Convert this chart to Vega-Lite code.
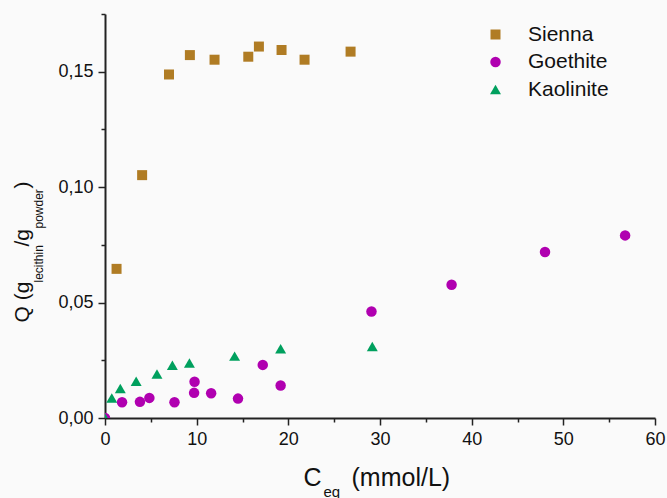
{
  "$schema": "https://vega.github.io/schema/vega-lite/v6.json",
  "autosize": {"type": "none"},
  "width": 550,
  "height": 404,
  "padding": {"left": 105, "top": 14, "right": 12, "bottom": 80},
  "background": "#fafafa",
  "config": {
    "view": {"stroke": null},
    "font": "Liberation Sans",
    "axis": {
      "domainColor": "#222222",
      "domainWidth": 2,
      "tickColor": "#222222",
      "tickWidth": 1.5,
      "labelColor": "#111111",
      "labelFont": "Liberation Sans",
      "labelFontSize": 18,
      "titleFont": "Liberation Sans",
      "titleFontWeight": "normal",
      "titleColor": "#111111",
      "grid": false
    }
  },
  "data": {
    "values": [
      {"Mineral": "Sienna", "C": 1.26, "Q": 0.0646},
      {"Mineral": "Sienna", "C": 4.05, "Q": 0.1052},
      {"Mineral": "Sienna", "C": 6.98, "Q": 0.1488},
      {"Mineral": "Sienna", "C": 9.26, "Q": 0.1572},
      {"Mineral": "Sienna", "C": 11.95, "Q": 0.1552},
      {"Mineral": "Sienna", "C": 15.63, "Q": 0.1565},
      {"Mineral": "Sienna", "C": 16.79, "Q": 0.1609},
      {"Mineral": "Sienna", "C": 19.26, "Q": 0.1594},
      {"Mineral": "Sienna", "C": 21.77, "Q": 0.1552},
      {"Mineral": "Sienna", "C": 26.79, "Q": 0.1587},
      {"Mineral": "Goethite", "C": 0, "Q": 0},
      {"Mineral": "Goethite", "C": 1.86, "Q": 0.0068},
      {"Mineral": "Goethite", "C": 3.81, "Q": 0.007},
      {"Mineral": "Goethite", "C": 4.84, "Q": 0.0087},
      {"Mineral": "Goethite", "C": 7.58, "Q": 0.0068},
      {"Mineral": "Goethite", "C": 9.77, "Q": 0.0157},
      {"Mineral": "Goethite", "C": 9.72, "Q": 0.0109},
      {"Mineral": "Goethite", "C": 11.58, "Q": 0.0107},
      {"Mineral": "Goethite", "C": 14.51, "Q": 0.0084},
      {"Mineral": "Goethite", "C": 17.21, "Q": 0.023},
      {"Mineral": "Goethite", "C": 19.16, "Q": 0.0141},
      {"Mineral": "Goethite", "C": 29.07, "Q": 0.0461},
      {"Mineral": "Goethite", "C": 37.81, "Q": 0.0577},
      {"Mineral": "Goethite", "C": 48.0, "Q": 0.0719},
      {"Mineral": "Goethite", "C": 56.74, "Q": 0.0791},
      {"Mineral": "Kaolinite", "C": 0, "Q": 0},
      {"Mineral": "Kaolinite", "C": 0.74, "Q": 0.0087},
      {"Mineral": "Kaolinite", "C": 1.67, "Q": 0.0128},
      {"Mineral": "Kaolinite", "C": 3.4, "Q": 0.0159},
      {"Mineral": "Kaolinite", "C": 5.67, "Q": 0.0191},
      {"Mineral": "Kaolinite", "C": 7.35, "Q": 0.0228},
      {"Mineral": "Kaolinite", "C": 9.21, "Q": 0.0238},
      {"Mineral": "Kaolinite", "C": 14.14, "Q": 0.0268},
      {"Mineral": "Kaolinite", "C": 19.16, "Q": 0.03},
      {"Mineral": "Kaolinite", "C": 29.16, "Q": 0.031}
    ]
  },
  "resolve": {"axis": {"x": "independent", "y": "independent"}},
  "layer": [
    {
      "mark": {"type": "point", "filled": true, "opacity": 1, "clip": true},
      "encoding": {
        "x": {
          "field": "C", "type": "quantitative",
          "scale": {"domain": [0, 60], "nice": false, "zero": false},
          "axis": {
            "orient": "bottom", "values": [0, 10, 20, 30, 40, 50, 60], "format": "d",
            "tickSize": 7, "labelPadding": 5, "labelFlush": false,
            "title": "C", "titleX": 198, "titleY": 67, "titleAlign": "left",
            "titleBaseline": "alphabetic", "titleAngle": 0, "titleFontSize": 25
          }
        },
        "y": {
          "field": "Q", "type": "quantitative",
          "scale": {"domain": [0, 0.175], "nice": false, "zero": false},
          "axis": {
            "orient": "left", "values": [0, 0.05, 0.1, 0.15],
            "labelExpr": "replace(format(datum.value, '.2f'), '.', ',')",
            "tickSize": 7, "labelPadding": 5, "labelFlush": false,
            "title": "Q (g", "titleX": -77, "titleY": 308, "titleAlign": "left",
            "titleBaseline": "alphabetic", "titleAngle": 270, "titleFontSize": 21
          }
        },
        "color": {
          "field": "Mineral", "type": "nominal",
          "scale": {"domain": ["Sienna", "Goethite", "Kaolinite"], "range": ["#B07C24", "#B000B0", "#00A05E"]},
          "legend": {
            "orient": "none", "legendX": 380, "legendY": 10, "title": null, "padding": 0,
            "labelFontSize": 21, "labelFont": "Liberation Sans", "labelColor": "#111111",
            "labelOffset": 22, "rowPadding": 5.5, "symbolOpacity": 1
          }
        },
        "shape": {
          "field": "Mineral", "type": "nominal",
          "scale": {"domain": ["Sienna", "Goethite", "Kaolinite"], "range": ["square", "circle", "triangle-up"]}
        },
        "size": {
          "field": "Mineral", "type": "nominal",
          "scale": {"domain": ["Sienna", "Goethite", "Kaolinite"], "range": [100, 120, 180]}
        }
      }
    },
    {
      "mark": {"type": "point", "opacity": 0},
      "encoding": {
        "x": {"field": "C", "type": "quantitative", "axis": {
          "orient": "bottom", "domain": false, "labels": false, "ticks": false,
          "title": "eq", "titleX": 218, "titleY": 78, "titleAlign": "left",
          "titleBaseline": "alphabetic", "titleAngle": 0, "titleFontSize": 15}},
        "y": {"field": "Q", "type": "quantitative", "axis": {
          "orient": "left", "domain": false, "labels": false, "ticks": false,
          "title": "lecithin", "titleX": -63, "titleY": 268, "titleAlign": "left",
          "titleBaseline": "alphabetic", "titleAngle": 270, "titleFontSize": 12}}
      }
    },
    {
      "mark": {"type": "point", "opacity": 0},
      "encoding": {
        "x": {"field": "C", "type": "quantitative", "axis": {
          "orient": "bottom", "domain": false, "labels": false, "ticks": false,
          "title": "(mmol/L)", "titleX": 246, "titleY": 67, "titleAlign": "left",
          "titleBaseline": "alphabetic", "titleAngle": 0, "titleFontSize": 25}},
        "y": {"field": "Q", "type": "quantitative", "axis": {
          "orient": "left", "domain": false, "labels": false, "ticks": false,
          "title": "/g", "titleX": -77, "titleY": 232, "titleAlign": "left",
          "titleBaseline": "alphabetic", "titleAngle": 270, "titleFontSize": 21}}
      }
    },
    {
      "mark": {"type": "point", "opacity": 0},
      "encoding": {
        "x": {"field": "C", "type": "quantitative", "axis": {
          "orient": "bottom", "domain": false, "labels": false, "ticks": true,
          "values": [5, 15, 25, 35, 45, 55], "tickSize": 4, "title": null}},
        "y": {"field": "Q", "type": "quantitative", "axis": {
          "orient": "left", "domain": false, "labels": false, "ticks": true,
          "values": [0.025, 0.075, 0.125, 0.175], "tickSize": 4,
          "title": "powder", "titleX": -63, "titleY": 214, "titleAlign": "left",
          "titleBaseline": "alphabetic", "titleAngle": 270, "titleFontSize": 12}}
      }
    },
    {
      "mark": {"type": "point", "opacity": 0},
      "encoding": {
        "x": {"field": "C", "type": "quantitative", "axis": null},
        "y": {"field": "Q", "type": "quantitative", "axis": {
          "orient": "left", "domain": false, "labels": false, "ticks": false,
          "title": ")", "titleX": -77, "titleY": 174, "titleAlign": "left",
          "titleBaseline": "alphabetic", "titleAngle": 270, "titleFontSize": 21}}
      }
    }
  ]
}
